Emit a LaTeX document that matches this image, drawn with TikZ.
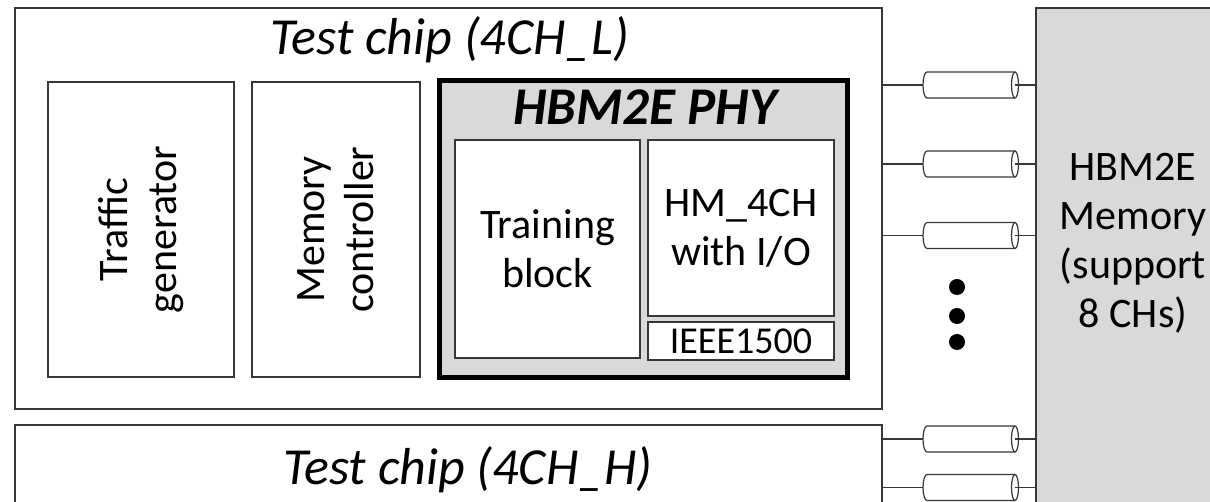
\documentclass[tikz,border=0pt]{standalone}
\usepackage{fontspec}
\setmainfont{Carlito}
\usetikzlibrary{positioning}
\definecolor{memgray}{RGB}{217,217,217}
\definecolor{edgegray}{RGB}{55,55,55}

\begin{document}
\begin{tikzpicture}[x=1pt,y=1pt,
  blk/.style={draw=edgegray, line width=1.4pt, fill=white, inner sep=0pt, outer sep=0pt,
    align=center, font=\fontsize{42}{49}\selectfont},
  cyl/.style={minimum width=88pt, minimum height=26pt, inner sep=0pt, outer sep=0pt},
  wire/.style={draw=edgegray, line width=1.2pt},
  dot/.style={circle, fill=black, minimum size=16pt, inner sep=0pt},
  ttl/.style={font=\fontsize{52}{60}\selectfont\itshape, anchor=base}]
\useasboundingbox (0,0) rectangle (1210,502);
% chips and memory
\node[blk, minimum width=867pt, minimum height=401pt] (chipL) at (448.5,293.5) {};
\node[blk, minimum width=867pt, minimum height=135pt] (chipH) at (448.5,9.5) {};
\node[blk, fill=memgray, minimum width=224pt, minimum height=552pt] (mem) at (1148,218) {};
\node[ttl] (tL) at (450,447) {Test chip (4CH\_L)};
\node[ttl] (tH) at (468,17) {Test chip (4CH\_H)};
\node[blk, draw=none, fill=none] (memtxt) at (1133,259) {HBM2E\\Memory\\(support\\8 CHs)};
% blocks inside 4CH_L
\node[blk, minimum width=186pt, minimum height=295pt] (trf) at (141,272.5) {};
\node[blk, draw=none, fill=none, rotate=90] at (trf) {Traffic\\generator};
\node[blk, minimum width=168pt, minimum height=295pt, right=18pt of trf] (mc) {};
\node[blk, draw=none, fill=none, rotate=90] at (mc) {Memory\\controller};
\node[blk, draw=black, line width=5pt, fill=memgray, minimum width=408pt, minimum height=297pt] (phy) at (643.5,273) {};
\node[ttl, font=\fontsize{53}{60}\selectfont\bfseries\itshape] (tphy) at (645,377) {HBM2E PHY};
\node[blk, minimum width=185pt, minimum height=218pt] (trn) at (547.5,253) {Training\\block};
\node[blk, minimum width=186pt, minimum height=176pt] (hm) at (741,274) {HM\_4CH\\with I/O};
\node[blk, minimum width=186pt, minimum height=38pt, below=6pt of hm,
  font=\fontsize{38}{44}\selectfont] (ieee) {IEEE1500};
% channels
\foreach \n/\y/\chip in {1/417/chipL,2/338/chipL,3/266.5/chipL,4/63/chipH,5/14.5/chipH}{
  \node[cyl] (c\n) at (971,\y) {};
  \draw[wire, fill=white] (c\n.south east) -- (c\n.south west)
    arc[start angle=270, end angle=90, x radius=4pt, y radius=13pt] -- (c\n.north east);
  \draw[wire, fill=white] (c\n.east) ellipse[x radius=3.5pt, y radius=13pt];
  \draw[wire] (\chip.east |- c\n.west) -- ([xshift=-4pt]c\n.west);
  \draw[wire] (c\n.east) -- (c\n.east -| mem.west);
}
\node[dot] (d1) at (957,215) {};
\node[dot] (d2) at (957,186) {};
\node[dot] (d3) at (957,160) {};
\end{tikzpicture}
\end{document}
